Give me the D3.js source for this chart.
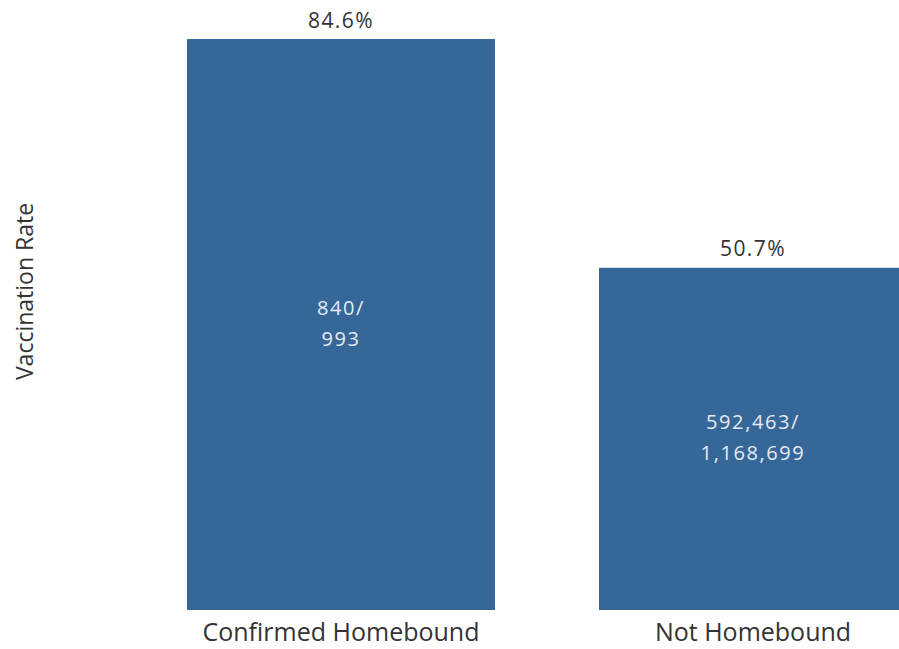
<!DOCTYPE html>
<html>
<head>
<meta charset="utf-8">
<script src="https://cdn.jsdelivr.net/npm/d3@7"></script>
<style>
  html, body { margin: 0; padding: 0; background: #ffffff; }
  svg { display: block; }
</style>
</head>
<body>
<svg id="chart" width="899" height="649"></svg>
<script>
// Vaccination rate by homebound status
const categories = ["Confirmed Homebound", "Not Homebound"];
const rates = [84.6, 50.7];
const vaccinated = ["840", "592,463"];
const population = ["993", "1,168,699"];

const svg = d3.select("#chart");

// the second column runs past the right edge of the view
const x = d3.scaleBand()
  .domain(categories)
  .range([187, 907])
  .paddingInner(104 / 412)
  .paddingOuter(0);

const y = d3.scaleLinear()
  .domain([0, 84.6])
  .range([610, 39]);

const barColor = "#356799";
const font = "'Open Sans', 'Noto Sans', sans-serif";
const cx = d => x(d) + x.bandwidth() / 2;

// bars
svg.selectAll("rect.bar")
  .data(categories)
  .join("rect")
  .attr("class", "bar")
  .attr("x", d => x(d))
  .attr("y", (d, i) => y(rates[i]))
  .attr("width", x.bandwidth())
  .attr("height", (d, i) => y(0) - y(rates[i]))
  .attr("fill", barColor);

// rate labels above bars
svg.selectAll("text.rate")
  .data(categories)
  .join("text")
  .attr("class", "rate")
  .attr("x", cx)
  .attr("y", (d, i) => y(rates[i]) - 11.5)
  .attr("text-anchor", "middle")
  .attr("font-family", font)
  .attr("font-size", 21)
  .attr("letter-spacing", 1.4)
  .attr("fill", "#333333")
  .text((d, i) => rates[i].toFixed(1) + "%");

// counts inside bars
const inner = svg.selectAll("g.count")
  .data(categories)
  .join("g")
  .attr("class", "count")
  .attr("transform", (d, i) => `translate(${cx(d)},${(y(rates[i]) + y(0)) / 2})`);

inner.append("text")
  .attr("y", -10)
  .attr("text-anchor", "middle")
  .attr("font-family", font)
  .attr("font-size", 20)
  .attr("letter-spacing", 1.6)
  .attr("fill", "#e4ebf3")
  .text((d, i) => vaccinated[i] + "/");

inner.append("text")
  .attr("y", 21)
  .attr("text-anchor", "middle")
  .attr("font-family", font)
  .attr("font-size", 20)
  .attr("letter-spacing", 1.6)
  .attr("fill", "#e4ebf3")
  .text((d, i) => population[i]);

// category labels
svg.selectAll("text.cat")
  .data(categories)
  .join("text")
  .attr("class", "cat")
  .attr("x", cx)
  .attr("y", 641)
  .attr("text-anchor", "middle")
  .attr("font-family", font)
  .attr("font-size", 25)
  .attr("fill", "#333333")
  .text(d => d);

// y axis title
svg.append("text")
  .attr("transform", "translate(33,291.5) rotate(-90)")
  .attr("text-anchor", "middle")
  .attr("font-family", font)
  .attr("font-size", 23)
  .attr("fill", "#333333")
  .text("Vaccination Rate");
</script>
</body>
</html>
